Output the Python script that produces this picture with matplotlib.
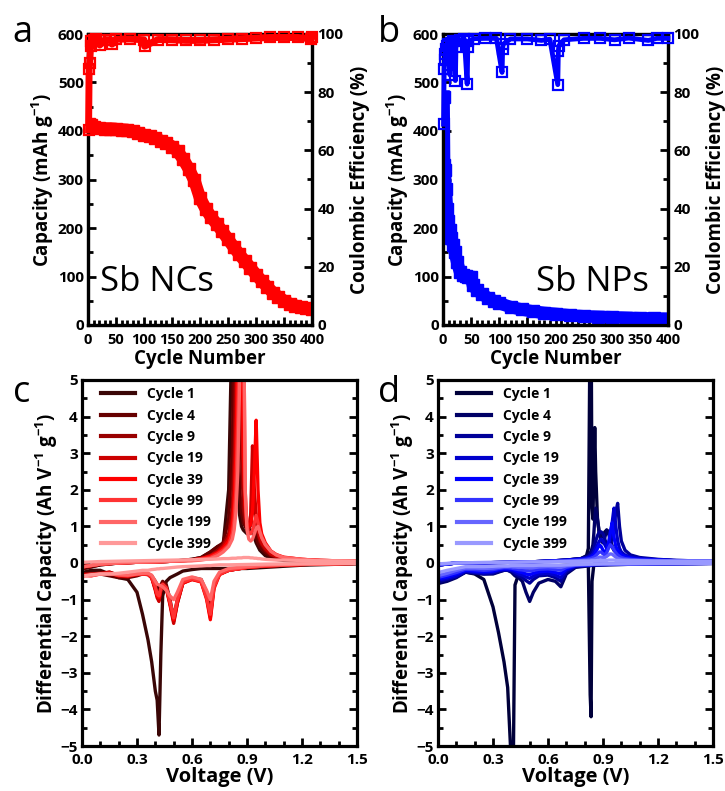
import matplotlib
matplotlib.use('Agg')
import matplotlib.pyplot as plt
from matplotlib.ticker import MultipleLocator

plt.rcParams['font.family'] = ['Open Sans', 'DejaVu Sans']
plt.rcParams['font.weight'] = 'bold'
plt.rcParams['axes.labelweight'] = 'bold'
plt.rcParams['mathtext.fontset'] = 'custom'
plt.rcParams['mathtext.rm'] = 'Open Sans:bold'
plt.rcParams['mathtext.it'] = 'Open Sans:bold'
plt.rcParams['mathtext.bf'] = 'Open Sans:bold'

# ---------------- panel a : Sb NCs cycling ----------------
cyc_a = [1, 5, 10, 20, 30, 40, 50, 60, 70, 80, 90, 100, 110, 120, 130, 140, 150, 160, 170, 180,
         190, 200, 210, 220, 230, 240, 250, 260, 270, 280, 290, 300, 310, 320, 330, 340, 350, 360,
         370, 380, 390, 400]
cap_a = [415, 412, 408, 406, 405, 405, 404, 403, 402, 400, 396, 392, 389, 385, 380, 375, 368, 358,
         342, 322, 298, 262, 240, 222, 208, 193, 177, 161, 146, 132, 118, 104, 91, 79, 67, 58, 50,
         44, 40, 37, 35, 33]
ce_cyc_a = [1, 2, 3, 5, 6, 10, 15, 20, 21, 30, 40, 43, 50, 75, 100, 101, 125, 150, 175, 200, 225,
            250, 275, 300, 325, 350, 375, 399, 400]
ce_a = [67, 88, 90, 97.5, 96, 98, 98.2, 98, 96.2, 98, 98, 96.5, 98.2, 98.3, 98, 95.8, 98.1, 98,
        97.8, 97.8, 98, 98.2, 98.4, 98.6, 98.8, 98.8, 98.8, 98.3, 98.9]

# ---------------- panel b : Sb NPs cycling ----------------
cyc_b = [1, 2, 3, 5, 7, 9, 12, 15, 18, 21, 25, 30, 35, 40, 45, 50, 53, 60, 70, 80, 90, 100, 120,
         140, 160, 180, 200, 225, 250, 275, 300, 325, 350, 375, 400]
cap_b = [471, 330, 320, 280, 240, 215, 195, 180, 165, 150, 130, 110, 104, 102, 100, 98, 82, 72, 63,
         56, 50, 45, 37, 32, 28, 25, 23, 20, 18, 17, 16, 15, 14, 13.5, 13]
ce_cyc_b = [1, 2, 3, 4, 5, 7, 9, 12, 13, 15, 18, 22, 23, 25, 30, 38, 43, 44, 45, 55, 75, 95, 105,
            106, 107, 120, 150, 175, 190, 204, 205, 206, 215, 250, 280, 305, 330, 365, 380, 400]
ce_b = [69, 88, 91, 93, 95, 96, 96.5, 86, 94, 97, 97.5, 84, 95.5, 97.5, 98, 98.2, 82.8, 95.5, 97.5,
        98.4, 98.5, 98.5, 86.8, 95, 96.5, 98.3, 98.3, 97.8, 98.2, 82.6, 94, 96, 98, 98.5, 98.5, 98,
        98.6, 97.8, 98.5, 98.5]

# ---------------- dQ/dV data ----------------
cycles = ['Cycle 1', 'Cycle 4', 'Cycle 9', 'Cycle 19', 'Cycle 39', 'Cycle 99', 'Cycle 199', 'Cycle 399']
red_colors = ['#3a0606', '#660000', '#990000', '#cc0000', '#ff0000', '#ff3333', '#ff6666', '#ff9999']
blue_colors = ['#00003a', '#000066', '#000099', '#0000cc', '#0000ff', '#3333ff', '#6666ff', '#9999ff']

# panel c, discharge (negative) branch
v_dis_c = [0.01, 0.05, 0.10, 0.15, 0.20, 0.25, 0.30, 0.33, 0.36, 0.38, 0.40, 0.41, 0.42, 0.43, 0.44,
           0.46, 0.48, 0.50, 0.52, 0.55, 0.60, 0.65, 0.68, 0.70, 0.72, 0.75, 0.80, 0.90, 1.00, 1.20, 1.50]
dis_c = [
    [-0.25, -0.2, -0.2, -0.3, -0.4, -0.45, -0.8, -1.4, -2.1, -2.7, -3.5, -3.75, -4.7, -2.5, -0.9,
     -0.5, -0.4, -0.35, -0.3, -0.22, -0.18, -0.15, -0.15, -0.15, -0.15, -0.15, -0.15, -0.15, -0.12, -0.06, -0.02],
    [-0.3, -0.3, -0.3, -0.35, -0.4, -0.4, -0.35, -0.3, -0.3, -0.35, -0.5, -0.6, -0.8, -0.6, -0.5,
     -0.6, -1.0, -1.5, -1.0, -0.5, -0.4, -0.45, -0.8, -1.2, -0.6, -0.3, -0.2, -0.12, -0.08, -0.04, -0.01],
    [-0.3, -0.32, -0.3, -0.25, -0.35, -0.38, -0.3, -0.28, -0.3, -0.4, -0.7, -0.9, -1.0, -0.7, -0.55,
     -0.65, -1.1, -1.6, -1.1, -0.55, -0.42, -0.5, -0.9, -1.4, -0.6, -0.3, -0.2, -0.12, -0.08, -0.04, -0.01],
    [-0.32, -0.3, -0.28, -0.25, -0.33, -0.36, -0.3, -0.3, -0.32, -0.4, -0.75, -0.95, -1.05, -0.75, -0.6,
     -0.7, -1.15, -1.65, -1.1, -0.55, -0.45, -0.5, -0.95, -1.5, -0.65, -0.3, -0.2, -0.12, -0.08, -0.04, -0.01],
    [-0.33, -0.35, -0.3, -0.28, -0.35, -0.35, -0.32, -0.3, -0.3, -0.4, -0.7, -0.9, -0.95, -0.7, -0.6,
     -0.7, -1.1, -1.55, -1.05, -0.55, -0.45, -0.52, -1.0, -1.55, -0.7, -0.32, -0.2, -0.12, -0.08, -0.04, -0.01],
    [-0.35, -0.33, -0.3, -0.28, -0.33, -0.35, -0.3, -0.3, -0.3, -0.38, -0.65, -0.85, -0.9, -0.68, -0.58,
     -0.68, -1.05, -1.5, -1.0, -0.52, -0.43, -0.5, -0.95, -1.4, -0.65, -0.3, -0.2, -0.12, -0.08, -0.04, -0.01],
    [-0.35, -0.35, -0.3, -0.3, -0.32, -0.33, -0.3, -0.28, -0.28, -0.33, -0.5, -0.58, -0.6, -0.62, -0.65,
     -0.75, -0.9, -1.0, -0.8, -0.45, -0.38, -0.45, -0.75, -1.0, -0.5, -0.25, -0.15, -0.1, -0.06, -0.03, -0.01],
    [-0.35, -0.32, -0.3, -0.3, -0.28, -0.25, -0.22, -0.2, -0.2, -0.18, -0.17, -0.16, -0.16, -0.15, -0.15,
     -0.14, -0.13, -0.12, -0.11, -0.1, -0.09, -0.08, -0.07, -0.07, -0.06, -0.05, -0.05, -0.04, -0.03, -0.02, -0.01],
]
# panel c, charge (positive) branch
v_chg_c = [0.01, 0.10, 0.20, 0.30, 0.40, 0.50, 0.60, 0.65, 0.70, 0.74, 0.77, 0.80, 0.82, 0.83, 0.84,
           0.85, 0.86, 0.87, 0.88, 0.89, 0.90, 0.91, 0.92, 0.93, 0.94, 0.95, 0.96, 0.97, 0.98, 1.00,
           1.03, 1.06, 1.10, 1.20, 1.30, 1.50]
chg_c = [
    [-0.15, -0.05, 0.0, 0.02, 0.03, 0.05, 0.1, 0.15, 0.3, 0.45, 0.5, 2.0, 7.0, 7.0, 4.0, 2.0, 1.3, 1.0,
     0.9, 0.85, 0.8, 0.85, 0.9, 0.85, 0.7, 0.55, 0.45, 0.35, 0.3, 0.2, 0.13, 0.1, 0.07, 0.05, 0.04, 0.03],
    [-0.15, -0.05, 0.0, 0.02, 0.03, 0.05, 0.1, 0.15, 0.3, 0.45, 0.55, 1.2, 3.0, 7.0, 7.0, 4.0, 2.0, 1.4,
     1.1, 1.0, 0.9, 0.95, 1.05, 1.1, 0.9, 0.7, 0.55, 0.45, 0.38, 0.28, 0.18, 0.13, 0.09, 0.06, 0.05, 0.04],
    [-0.1, -0.03, 0.0, 0.02, 0.03, 0.05, 0.08, 0.12, 0.2, 0.35, 0.5, 0.8, 1.5, 3.0, 6.0, 8.0, 6.0, 3.0,
     1.5, 1.1, 0.95, 0.95, 1.1, 1.4, 1.6, 1.2, 0.8, 0.6, 0.5, 0.35, 0.22, 0.16, 0.12, 0.08, 0.06, 0.05],
    [-0.1, -0.03, 0.0, 0.02, 0.03, 0.05, 0.08, 0.12, 0.2, 0.3, 0.45, 0.7, 1.2, 2.0, 4.0, 7.0, 8.0, 5.0,
     2.5, 1.4, 1.0, 0.95, 1.3, 3.2, 2.0, 1.3, 0.9, 0.7, 0.55, 0.4, 0.25, 0.18, 0.13, 0.09, 0.07, 0.05],
    [-0.1, -0.03, 0.0, 0.02, 0.03, 0.05, 0.08, 0.12, 0.18, 0.28, 0.4, 0.6, 1.0, 1.6, 3.0, 6.0, 8.0, 7.0,
     3.0, 1.6, 1.1, 1.0, 1.05, 1.4, 2.5, 3.9, 2.0, 1.1, 0.8, 0.55, 0.33, 0.23, 0.16, 0.1, 0.07, 0.05],
    [-0.1, -0.03, 0.0, 0.02, 0.03, 0.05, 0.07, 0.1, 0.15, 0.25, 0.35, 0.5, 0.8, 1.2, 2.0, 4.0, 7.0, 8.0,
     8.0, 2.0, 1.0, 0.8, 0.8, 0.9, 1.1, 1.3, 1.1, 0.85, 0.7, 0.5, 0.32, 0.22, 0.15, 0.1, 0.07, 0.05],
    [-0.1, -0.03, 0.0, 0.02, 0.03, 0.05, 0.06, 0.08, 0.12, 0.2, 0.3, 0.45, 0.65, 0.9, 1.4, 2.5, 5.0, 7.0,
     8.0, 2.0, 0.9, 0.65, 0.6, 0.65, 0.8, 0.95, 1.0, 0.85, 0.7, 0.5, 0.32, 0.22, 0.15, 0.1, 0.07, 0.05],
    [0.02, 0.04, 0.05, 0.06, 0.07, 0.08, 0.09, 0.1, 0.1, 0.11, 0.12, 0.12, 0.13, 0.13, 0.13, 0.14, 0.14,
     0.14, 0.15, 0.15, 0.15, 0.15, 0.14, 0.14, 0.13, 0.13, 0.12, 0.12, 0.11, 0.1, 0.09, 0.08, 0.08, 0.07,
     0.06, 0.05],
]

# panel d, discharge branch
v_dis_d = [0.01, 0.05, 0.10, 0.15, 0.20, 0.25, 0.30, 0.33, 0.36, 0.38, 0.40, 0.41, 0.42, 0.44, 0.46,
           0.48, 0.50, 0.52, 0.55, 0.60, 0.64, 0.67, 0.70, 0.75, 0.82, 0.83, 0.835, 0.84, 0.85, 0.90,
           1.00, 1.20, 1.50]
dis_d = [
    [-0.5, -0.45, -0.35, -0.25, -0.3, -0.45, -1.2, -1.9, -2.7, -3.4, -5.5, -6.0, -0.6, -0.3, -0.25,
     -0.2, -0.18, -0.15, -0.12, -0.1, -0.08, -0.07, -0.06, -0.05, -0.05, -3.6, -4.2, -0.5, -0.05,
     -0.04, -0.03, -0.02, -0.01],
    [-0.55, -0.5, -0.4, -0.25, -0.28, -0.3, -0.3, -0.25, -0.2, -0.2, -0.25, -0.3, -0.35, -0.4, -0.5,
     -0.8, -1.05, -0.8, -0.55, -0.45, -0.5, -0.65, -0.3, -0.12, -0.08, -0.07, -0.07, -0.06, -0.06,
     -0.05, -0.04, -0.02, -0.01],
    [-0.5, -0.45, -0.38, -0.25, -0.27, -0.3, -0.28, -0.23, -0.2, -0.2, -0.22, -0.25, -0.3, -0.35, -0.4,
     -0.48, -0.55, -0.45, -0.35, -0.33, -0.4, -0.5, -0.25, -0.1, -0.07, -0.07, -0.06, -0.06, -0.05,
     -0.05, -0.04, -0.02, -0.01],
    [-0.45, -0.42, -0.35, -0.22, -0.25, -0.27, -0.25, -0.2, -0.18, -0.18, -0.2, -0.22, -0.25, -0.3,
     -0.33, -0.38, -0.42, -0.36, -0.3, -0.28, -0.33, -0.4, -0.2, -0.08, -0.06, -0.06, -0.05, -0.05,
     -0.05, -0.04, -0.03, -0.02, -0.01],
    [-0.42, -0.38, -0.3, -0.2, -0.22, -0.24, -0.22, -0.18, -0.16, -0.16, -0.17, -0.18, -0.2, -0.24,
     -0.26, -0.3, -0.32, -0.28, -0.24, -0.22, -0.26, -0.3, -0.16, -0.07, -0.05, -0.05, -0.05, -0.05,
     -0.04, -0.04, -0.03, -0.02, -0.01],
    [-0.38, -0.33, -0.26, -0.17, -0.18, -0.2, -0.18, -0.15, -0.13, -0.13, -0.14, -0.15, -0.16, -0.18,
     -0.19, -0.21, -0.22, -0.2, -0.17, -0.16, -0.18, -0.2, -0.12, -0.06, -0.05, -0.05, -0.04, -0.04,
     -0.04, -0.03, -0.03, -0.02, -0.01],
    [-0.33, -0.28, -0.2, -0.14, -0.14, -0.15, -0.14, -0.12, -0.1, -0.1, -0.1, -0.11, -0.11, -0.12,
     -0.12, -0.13, -0.14, -0.13, -0.11, -0.1, -0.11, -0.12, -0.08, -0.05, -0.04, -0.04, -0.04, -0.04,
     -0.03, -0.03, -0.02, -0.02, -0.01],
    [-0.25, -0.2, -0.15, -0.1, -0.1, -0.1, -0.09, -0.08, -0.08, -0.08, -0.07, -0.07, -0.07, -0.07,
     -0.07, -0.07, -0.07, -0.07, -0.06, -0.06, -0.06, -0.06, -0.05, -0.04, -0.03, -0.03, -0.03, -0.03,
     -0.03, -0.02, -0.02, -0.01, -0.01],
]
# panel d, charge branch
v_chg_d = [0.01, 0.10, 0.20, 0.30, 0.40, 0.50, 0.60, 0.70, 0.78, 0.81, 0.82, 0.83, 0.835, 0.84, 0.845,
           0.85, 0.855, 0.86, 0.87, 0.88, 0.89, 0.90, 0.91, 0.92, 0.93, 0.94, 0.95, 0.96, 0.97, 0.98,
           0.99, 1.00, 1.02, 1.05, 1.10, 1.20, 1.30, 1.50]
chg_d = [
    [-0.05, 0.0, 0.0, 0.01, 0.02, 0.03, 0.05, 0.08, 0.12, 0.2, 0.4, 7.0, 7.0, 1.5, 1.2, 2.5, 3.7, 2.5,
     1.2, 0.8, 0.7, 0.75, 0.85, 0.9, 0.85, 0.65, 0.45, 0.35, 0.3, 0.27, 0.25, 0.22, 0.18, 0.15, 0.12,
     0.08, 0.06, 0.04],
    [-0.05, 0.0, 0.0, 0.01, 0.02, 0.03, 0.05, 0.08, 0.12, 0.18, 0.22, 0.28, 0.32, 0.4, 0.5, 0.8, 1.2,
     1.5, 1.2, 0.8, 0.6, 0.55, 0.7, 0.9, 0.85, 0.6, 0.45, 0.35, 0.3, 0.26, 0.23, 0.2, 0.17, 0.14, 0.11,
     0.08, 0.06, 0.04],
    [-0.05, 0.0, 0.0, 0.01, 0.02, 0.03, 0.05, 0.08, 0.12, 0.16, 0.18, 0.22, 0.25, 0.3, 0.35, 0.42, 0.5,
     0.6, 0.75, 0.85, 0.85, 0.8, 0.65, 0.5, 0.45, 0.5, 0.7, 1.0, 1.4, 1.63, 1.0, 0.6, 0.35, 0.22, 0.15,
     0.1, 0.07, 0.05],
    [-0.05, 0.0, 0.0, 0.01, 0.02, 0.03, 0.05, 0.08, 0.11, 0.14, 0.16, 0.18, 0.2, 0.22, 0.25, 0.3, 0.35,
     0.4, 0.5, 0.6, 0.65, 0.6, 0.5, 0.4, 0.5, 0.7, 1.1, 1.5, 1.0, 0.6, 0.4, 0.3, 0.22, 0.16, 0.12, 0.09,
     0.07, 0.05],
    [-0.05, 0.0, 0.0, 0.01, 0.02, 0.03, 0.05, 0.07, 0.1, 0.12, 0.14, 0.15, 0.16, 0.18, 0.2, 0.22, 0.25,
     0.3, 0.4, 0.5, 0.45, 0.35, 0.3, 0.35, 0.55, 0.85, 1.1, 0.7, 0.45, 0.35, 0.28, 0.22, 0.17, 0.13,
     0.1, 0.08, 0.06, 0.05],
    [-0.05, 0.0, 0.0, 0.01, 0.02, 0.03, 0.04, 0.06, 0.08, 0.1, 0.11, 0.12, 0.13, 0.14, 0.15, 0.16, 0.18,
     0.2, 0.25, 0.3, 0.3, 0.25, 0.22, 0.28, 0.4, 0.5, 0.45, 0.35, 0.28, 0.22, 0.18, 0.15, 0.12, 0.1,
     0.08, 0.07, 0.06, 0.05],
    [-0.03, 0.0, 0.01, 0.01, 0.02, 0.03, 0.04, 0.05, 0.06, 0.07, 0.08, 0.08, 0.09, 0.09, 0.1, 0.1, 0.11,
     0.12, 0.14, 0.16, 0.16, 0.15, 0.15, 0.18, 0.22, 0.25, 0.24, 0.2, 0.16, 0.13, 0.11, 0.1, 0.09, 0.08,
     0.07, 0.06, 0.05, 0.05],
    [-0.02, 0.0, 0.01, 0.02, 0.02, 0.03, 0.03, 0.04, 0.05, 0.05, 0.05, 0.05, 0.06, 0.06, 0.06, 0.06,
     0.06, 0.06, 0.07, 0.07, 0.07, 0.07, 0.07, 0.07, 0.08, 0.08, 0.08, 0.08, 0.07, 0.07, 0.07, 0.07,
     0.06, 0.06, 0.06, 0.05, 0.05, 0.05],
]

W, H = 725, 791
fig = plt.figure(figsize=(W / 100, H / 100), dpi=100)


def px_axes(left, top, right, bottom):
    return fig.add_axes([left / W, 1 - bottom / H, (right - left) / W, (bottom - top) / H])


def bold_ticks(ax):
    for t in ax.get_xticklabels() + ax.get_yticklabels():
        t.set_fontweight('bold')


def style_axes(ax):
    for s in ax.spines.values():
        s.set_linewidth(2.3)
    ax.tick_params(which='major', direction='in', length=6, width=2, labelsize=11, pad=3)
    ax.tick_params(which='minor', direction='in', length=3.5, width=2)
    ax.tick_params(top=False, right=False)


def cycling_panel(box, cyc, cap, ce_cyc, ce, color, ce_lw, name, name_x, name_ha):
    ax = px_axes(*box)
    ax.plot(cyc, cap, color=color, lw=9, marker='s', ms=9, solid_joinstyle='miter', zorder=3)
    ax.set_xlim(0, 400)
    ax.set_ylim(0, 600)
    ax.xaxis.set_major_locator(MultipleLocator(50))
    ax.xaxis.set_minor_locator(MultipleLocator(10))
    ax.yaxis.set_major_locator(MultipleLocator(100))
    ax.yaxis.set_minor_locator(MultipleLocator(50))
    style_axes(ax)
    ax.tick_params(axis='x', labelsize=10.5, pad=5.5)
    bold_ticks(ax)
    ax.set_xlabel('Cycle Number', fontsize=13.5, labelpad=2)
    ax.set_ylabel('Capacity (mAh g$^{-1}$)', fontsize=13.5, labelpad=1)
    ax.text(name_x, 70, name, fontsize=25, fontweight='normal', ha=name_ha, va='baseline')

    ax2 = ax.twinx()
    ax2.plot(ce_cyc, ce, color=color, lw=ce_lw, marker='s', ms=7, mfc='none', mec=color, mew=1.6,
             clip_on=False, zorder=4)
    ax2.set_ylim(0, 100)
    ax2.yaxis.set_major_locator(MultipleLocator(20))
    ax2.yaxis.set_minor_locator(MultipleLocator(10))
    for s in ax2.spines.values():
        s.set_linewidth(2.3)
    ax2.tick_params(which='major', direction='in', length=6, width=2, labelsize=11, pad=4)
    ax2.tick_params(which='minor', direction='in', length=3.5, width=2)
    bold_ticks(ax2)
    ax2.set_ylabel('Coulombic Efficiency (%)', fontsize=13.5, labelpad=5)
    return ax


def dqdv_panel(box, colors):
    ax = px_axes(*box)
    if colors is red_colors:
        vd, dd, vc, dc = v_dis_c, dis_c, v_chg_c, chg_c
    else:
        vd, dd, vc, dc = v_dis_d, dis_d, v_chg_d, chg_d
    for i, lab in enumerate(cycles):
        ax.plot(vd, dd[i], color=colors[i], lw=2.4, label=lab)
        ax.plot(vc, dc[i], color=colors[i], lw=2.4)
    ax.set_xlim(0, 1.5)
    ax.set_ylim(-5, 5)
    ax.xaxis.set_major_locator(MultipleLocator(0.3))
    ax.xaxis.set_minor_locator(MultipleLocator(0.1))
    ax.yaxis.set_major_locator(MultipleLocator(1))
    ax.yaxis.set_minor_locator(MultipleLocator(0.5))
    ax.xaxis.set_major_formatter(plt.FormatStrFormatter('%.1f'))
    style_axes(ax)
    ax.tick_params(axis='x', pad=5)
    ax.tick_params(axis='y', which='both', right=True, labelright=False)
    bold_ticks(ax)
    ax.set_xlabel('Voltage (V)', fontsize=14.5, labelpad=0)
    ax.set_ylabel('Differential Capacity (Ah V$^{-1}$ g$^{-1}$)', fontsize=13.5, labelpad=0)
    leg = ax.legend(loc='upper left', bbox_to_anchor=(0.07, 0.98), frameon=False, fontsize=10,
                    handlelength=2.4, handletextpad=0.86, labelspacing=0.53, borderpad=0,
                    borderaxespad=0)
    for line in leg.get_lines():
        line.set_linewidth(3)
    return ax


cycling_panel((88, 34, 312, 325), cyc_a, cap_a, ce_cyc_a, ce_a, '#ff0000', 5, 'Sb NCs', 22, 'left')
cycling_panel((443, 34, 668, 325), cyc_b, cap_b, ce_cyc_b, ce_b, '#0000ff', 3.5, 'Sb NPs', 366, 'right')
dqdv_panel((82, 380, 357, 746), red_colors)
dqdv_panel((438, 380, 713, 746), blue_colors)

for letter, x, y in [('a', 12, 42), ('b', 378, 42), ('c', 13, 402), ('d', 378, 402)]:
    fig.text(x / W, 1 - y / H, letter, fontsize=26, fontweight='normal', va='baseline')

fig.savefig('out.png', dpi=100)
